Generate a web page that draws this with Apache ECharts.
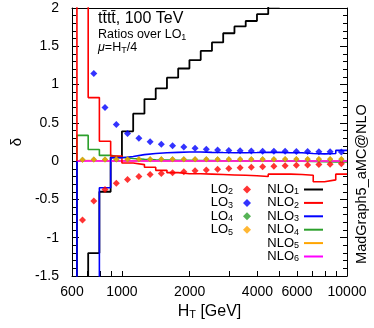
<!DOCTYPE html>
<html><head><meta charset="utf-8">
<script src="https://cdn.jsdelivr.net/npm/echarts@6/dist/echarts.min.js"></script>
<style>html,body{margin:0;padding:0;background:#fff}#c{width:374px;height:328px}</style>
</head><body><div id="c"></div>
<script>
// bin edges (GeV) and bin centres (log-centres)
const binEdges = [631, 708, 794, 891, 1000, 1122, 1259, 1413, 1585, 1778, 1995, 2239, 2512, 2818, 3162, 3548, 3981, 4467, 5012, 5623, 6310, 7079, 7943, 8913, 10000];
const binCentres = [668, 750, 841, 944, 1059, 1189, 1334, 1496, 1679, 1884, 2113, 2371, 2661, 2985, 3350, 3758, 4217, 4732, 5309, 5957, 6683, 7499, 8414, 9441];

// NLO histograms (ratio over LO1)
const nlo1 = [-2.5, -1.2, -0.40, 0.05, 0.39, 0.62, 0.81, 0.95, 1.09, 1.21, 1.32, 1.44, 1.55, 1.67, 1.76, 1.83, 1.92, 2.02, 2.1, 2.18, 2.25, 2.32, 2.4, 2.46];
const nlo2 = [2.8, 0.83, 0.26, 0.067, -0.025, -0.045, -0.08, -0.12, -0.15, -0.165, -0.165, -0.17, -0.175, -0.18, -0.185, -0.19, -0.2, -0.17, -0.17, -0.175, -0.185, -0.27, -0.245, -0.17];
const nlo3 = [-2.5, -2.5, -0.347, 0.045, 0.06, 0.085, 0.1, 0.11, 0.115, 0.12, 0.12, 0.115, 0.112, 0.11, 0.11, 0.112, 0.115, 0.115, 0.11, 0.11, 0.1, 0.095, 0.1, 0.14];
const nlo4 = [0.337, 0.152, 0.075, 0.05, 0.035, 0.025, 0.018, 0.015, 0.012, 0.01, 0.008, 0.007, 0.006, 0.005, 0.004, 0.003, 0.002, 0.001, 0.0, -0.002, -0.004, -0.006, -0.01, -0.01];
const nlo5 = [0.008, 0.006, 0.004, 0.003, 0.003, 0.003, 0.002, 0.002, 0.002, 0.002, 0.002, 0.002, 0.002, 0.002, 0.002, 0.002, 0.002, 0.002, 0.002, 0.002, 0.002, 0.002, 0.002, 0.002];
const nlo6 = [0.001, 0.001, 0.001, 0.001, 0.001, 0.001, 0.001, 0.001, 0.001, 0.001, 0.001, 0.001, 0.001, 0.001, 0.001, 0.001, 0.001, 0.001, 0.001, 0.001, 0.001, 0.001, 0.001, 0.001];

// LO points
const lo2 = [-0.77, -0.52, -0.37, -0.29, -0.24, -0.20, -0.175, -0.16, -0.15, -0.14, -0.125, -0.116, -0.105, -0.095, -0.087, -0.08, -0.073, -0.066, -0.06, -0.055, -0.05, -0.045, -0.04, -0.035];
const lo3 = [2.6, 1.146, 0.70, 0.477, 0.36, 0.298, 0.253, 0.219, 0.20, 0.184, 0.167, 0.154, 0.145, 0.14, 0.136, 0.133, 0.13, 0.13, 0.128, 0.125, 0.125, 0.123, 0.122, 0.12];
const lo4 = [0.017, 0.021, 0.022, 0.023, 0.024, 0.024, 0.024, 0.024, 0.024, 0.024, 0.025, 0.025, 0.025, 0.025, 0.025, 0.025, 0.025, 0.025, 0.026, 0.026, 0.026, 0.026, 0.026, 0.026];
const lo5 = [0.018, 0.022, 0.023, 0.024, 0.025, 0.025, 0.025, 0.025, 0.025, 0.025, 0.026, 0.026, 0.026, 0.026, 0.026, 0.026, 0.026, 0.026, 0.027, 0.027, 0.027, 0.027, 0.027, 0.027];

const xLabelValues = [600, 1000, 2000, 4000, 6000, 10000];
const xTickValues = [700, 800, 900, 1000, 2000, 3000, 4000, 5000, 6000, 7000, 8000, 9000, 10000];

const FONT = "'Liberation Sans', Arial, sans-serif";

// histogram outline: starts at 0 on the first edge, then bin by bin
function stepData(vals) {
  const d = [[binEdges[0], 0]];
  vals.forEach((v, i) => { d.push([binEdges[i], v]); d.push([binEdges[i + 1], v]); });
  return d;
}
function pointData(vals) { return vals.map((v, i) => [binCentres[i], v]); }

function lineSeries(name, vals, color, w) {
  return { name, type: 'line', data: stepData(vals), symbol: 'none', showSymbol: false,
    lineStyle: { color, width: w || 1.6 }, itemStyle: { color }, clip: true, z: 2, animation: false };
}
function pointSeries(name, vals, color, size) {
  return { name, type: 'scatter', data: pointData(vals), symbol: 'diamond', symbolSize: size || 7,
    itemStyle: { color }, clip: true, z: 3, animation: false };
}

const richSub = {
  b: { fontSize: 13, fontFamily: FONT, color: '#000', lineHeight: 13.8 },
  s: { fontSize: 9, fontFamily: FONT, color: '#000', lineHeight: 8, verticalAlign: 'bottom' },
  g: { width: 5 }
};
function subFmt(name) {
  const m = name.match(/^([A-Z]+)(\d)$/);
  return '{b|' + m[1] + '}{s|' + m[2] + '}';
}

const chart = echarts.init(document.getElementById('c'), null, { renderer: 'canvas' });
chart.setOption({
  animation: false,
  backgroundColor: '#fff',
  grid: { left: 72, right: 27, top: 8, bottom: 52 },
  xAxis: [{
    type: 'log', logBase: 10, min: 600, max: 10000, position: 'bottom',
    axisLine: { show: true, onZero: false, lineStyle: { color: '#000', width: 1 } },
    axisTick: { show: true, inside: true, length: 5, customValues: xTickValues, lineStyle: { color: '#000' } },
    minorTick: { show: false },
    axisLabel: { show: true, customValues: xLabelValues, margin: 9, fontSize: 14, fontFamily: FONT, color: '#000',
      formatter: v => String(Math.round(v)) },
    splitLine: { show: false },
    name: '{n|H}{s|T}{n| [GeV]}', nameLocation: 'middle', nameGap: 26,
    nameTextStyle: { rich: {
      n: { fontSize: 16, fontFamily: FONT, color: '#000', lineHeight: 18 },
      s: { fontSize: 11, fontFamily: FONT, color: '#000', lineHeight: 10, verticalAlign: 'bottom' } } }
  }, {
    type: 'log', logBase: 10, min: 600, max: 10000, position: 'top',
    axisLine: { show: true, onZero: false, lineStyle: { color: '#000', width: 1 } },
    axisTick: { show: false }, axisLabel: { show: false }, splitLine: { show: false }
  }],
  yAxis: [{
    type: 'value', min: -1.5, max: 2, interval: 0.5, position: 'left',
    axisLine: { show: true, onZero: false, lineStyle: { color: '#000', width: 1 } },
    axisTick: { show: true, inside: true, length: 7, lineStyle: { color: '#000' } },
    minorTick: { show: true, splitNumber: 5, length: 4, lineStyle: { color: '#000' } },
    axisLabel: { margin: 13, fontSize: 14, fontFamily: FONT, color: '#000' },
    splitLine: { show: false },
    name: 'δ', nameLocation: 'middle', nameGap: 48, nameRotate: 90,
    nameTextStyle: { fontSize: 15, fontFamily: FONT, color: '#000' }
  }, {
    type: 'value', min: -1.5, max: 2, interval: 0.5, position: 'right',
    axisLine: { show: true, onZero: false, lineStyle: { color: '#000', width: 1 } },
    axisTick: { show: true, inside: true, length: 7, lineStyle: { color: '#000' } },
    minorTick: { show: true, splitNumber: 5, length: 4, lineStyle: { color: '#000' } },
    axisLabel: { show: false }, splitLine: { show: false }
  }],
  legend: [{
    data: ['LO2', 'LO3', 'LO4', 'LO5'], orient: 'vertical', right: 123, top: 183, align: 'right', padding: 0,
    itemWidth: 8, itemHeight: 8, itemGap: 0, selectedMode: false,
    formatter: n => subFmt(n) + '{g|}', textStyle: { rich: richSub }
  }, {
    data: ['NLO1', 'NLO2', 'NLO3', 'NLO4', 'NLO5', 'NLO6'].map(n => ({ name: n, icon: 'rect' })),
    orient: 'vertical', right: 51, top: 183, align: 'right', padding: 0,
    itemWidth: 19, itemHeight: 2, itemGap: 0, selectedMode: false,
    formatter: n => subFmt(n), textStyle: { rich: richSub }
  }],
  graphic: [
    { type: 'text', x: 98, y: 19, style: { text: 'tt\u0304tt\u0304, 100 TeV', font: '16px ' + FONT, fill: '#000', textVerticalAlign: 'middle' } },
    { type: 'text', x: 98, y: 35, style: { text: '{b|Ratios over LO}{s|1}', textVerticalAlign: 'middle',
      rich: { b: { fontSize: 12.5, fontFamily: FONT, fill: '#000', lineHeight: 14 }, s: { fontSize: 9, fontFamily: FONT, fill: '#000', lineHeight: 8, verticalAlign: 'bottom' } } } },
    { type: 'text', x: 98, y: 48, style: { text: '{i|μ}{b|=H}{s|T}{b|/4}', textVerticalAlign: 'middle',
      rich: { i: { fontSize: 12.5, fontStyle: 'italic', fontFamily: FONT, fill: '#000', lineHeight: 14 },
              b: { fontSize: 12.5, fontFamily: FONT, fill: '#000', lineHeight: 14 },
              s: { fontSize: 9, fontFamily: FONT, fill: '#000', lineHeight: 8, verticalAlign: 'bottom' } } } },
    { type: 'text', x: 362, y: 184, rotation: Math.PI / 2, style: { text: 'MadGraph5_aMC@NLO', font: '14.5px ' + FONT, fill: '#000', textAlign: 'center', textVerticalAlign: 'middle' } }
  ],
  series: [
    lineSeries('NLO1', nlo1, '#000000', 1.8),
    lineSeries('NLO4', nlo4, '#2ca02c'),
    lineSeries('NLO5', nlo5, '#ffa500'),
    lineSeries('NLO6', nlo6, '#ff00ff'),
    lineSeries('NLO2', nlo2, '#ff0000'),
    lineSeries('NLO3', nlo3, '#0000ff'),
    pointSeries('LO2', lo2, '#ff0000'),
    pointSeries('LO3', lo3, '#0000ff'),
    pointSeries('LO4', lo4, '#2ca02c', 6),
    pointSeries('LO5', lo5, '#ffa500', 6)
  ]
});
</script></body></html>
